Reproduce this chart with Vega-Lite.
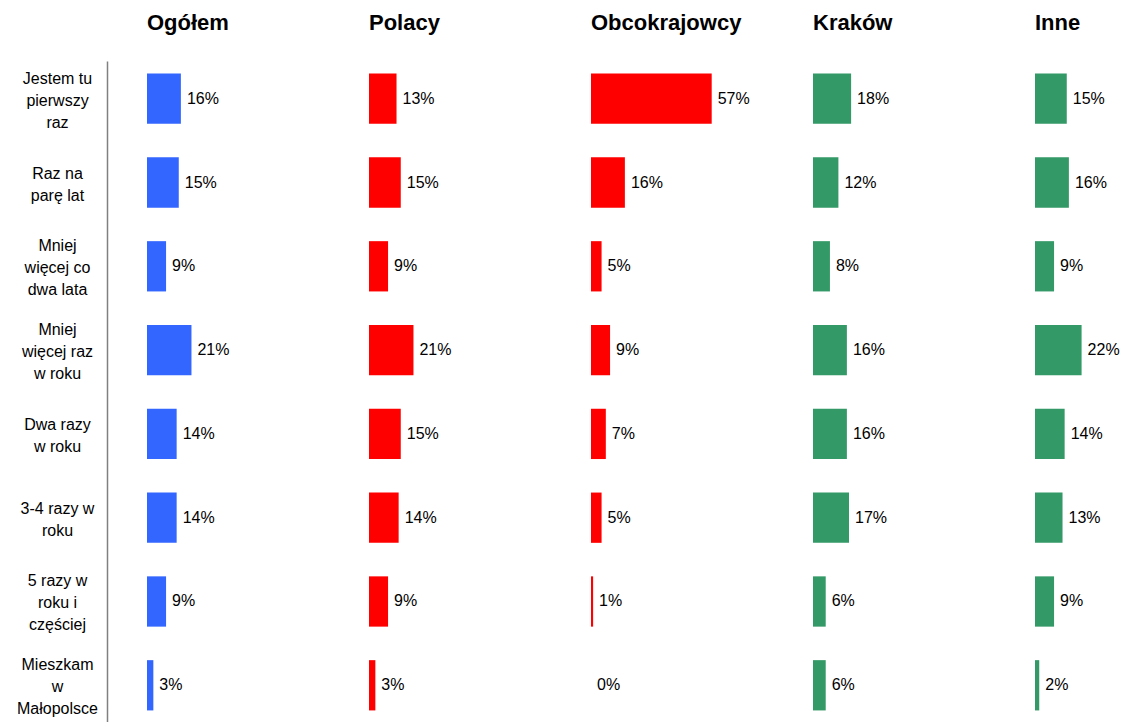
{
  "$schema": "https://vega.github.io/schema/vega-lite/v6.json",
  "padding": {"left": 16, "top": 12, "right": 0, "bottom": 0},
  "bounds": "flush",
  "background": "white",
  "config": {
    "view": {"stroke": null},
    "font": "Liberation Sans"
  },
  "data": {
    "values": [
      {"freq": "Jestem tu\npierwszy\nraz", "group": "Ogółem", "value": 0.16},
      {"freq": "Jestem tu\npierwszy\nraz", "group": "Polacy", "value": 0.13},
      {"freq": "Jestem tu\npierwszy\nraz", "group": "Obcokrajowcy", "value": 0.57},
      {"freq": "Jestem tu\npierwszy\nraz", "group": "Kraków", "value": 0.18},
      {"freq": "Jestem tu\npierwszy\nraz", "group": "Inne", "value": 0.15},
      {"freq": "Raz na\nparę lat", "group": "Ogółem", "value": 0.15},
      {"freq": "Raz na\nparę lat", "group": "Polacy", "value": 0.15},
      {"freq": "Raz na\nparę lat", "group": "Obcokrajowcy", "value": 0.16},
      {"freq": "Raz na\nparę lat", "group": "Kraków", "value": 0.12},
      {"freq": "Raz na\nparę lat", "group": "Inne", "value": 0.16},
      {"freq": "Mniej\nwięcej co\ndwa lata", "group": "Ogółem", "value": 0.09},
      {"freq": "Mniej\nwięcej co\ndwa lata", "group": "Polacy", "value": 0.09},
      {"freq": "Mniej\nwięcej co\ndwa lata", "group": "Obcokrajowcy", "value": 0.05},
      {"freq": "Mniej\nwięcej co\ndwa lata", "group": "Kraków", "value": 0.08},
      {"freq": "Mniej\nwięcej co\ndwa lata", "group": "Inne", "value": 0.09},
      {"freq": "Mniej\nwięcej raz\nw roku", "group": "Ogółem", "value": 0.21},
      {"freq": "Mniej\nwięcej raz\nw roku", "group": "Polacy", "value": 0.21},
      {"freq": "Mniej\nwięcej raz\nw roku", "group": "Obcokrajowcy", "value": 0.09},
      {"freq": "Mniej\nwięcej raz\nw roku", "group": "Kraków", "value": 0.16},
      {"freq": "Mniej\nwięcej raz\nw roku", "group": "Inne", "value": 0.22},
      {"freq": "Dwa razy\nw roku", "group": "Ogółem", "value": 0.14},
      {"freq": "Dwa razy\nw roku", "group": "Polacy", "value": 0.15},
      {"freq": "Dwa razy\nw roku", "group": "Obcokrajowcy", "value": 0.07},
      {"freq": "Dwa razy\nw roku", "group": "Kraków", "value": 0.16},
      {"freq": "Dwa razy\nw roku", "group": "Inne", "value": 0.14},
      {"freq": "3-4 razy w\nroku", "group": "Ogółem", "value": 0.14},
      {"freq": "3-4 razy w\nroku", "group": "Polacy", "value": 0.14},
      {"freq": "3-4 razy w\nroku", "group": "Obcokrajowcy", "value": 0.05},
      {"freq": "3-4 razy w\nroku", "group": "Kraków", "value": 0.17},
      {"freq": "3-4 razy w\nroku", "group": "Inne", "value": 0.13},
      {"freq": "5 razy w\nroku i\nczęściej", "group": "Ogółem", "value": 0.09},
      {"freq": "5 razy w\nroku i\nczęściej", "group": "Polacy", "value": 0.09},
      {"freq": "5 razy w\nroku i\nczęściej", "group": "Obcokrajowcy", "value": 0.01},
      {"freq": "5 razy w\nroku i\nczęściej", "group": "Kraków", "value": 0.06},
      {"freq": "5 razy w\nroku i\nczęściej", "group": "Inne", "value": 0.09},
      {"freq": "Mieszkam\nw\nMałopolsce", "group": "Ogółem", "value": 0.03},
      {"freq": "Mieszkam\nw\nMałopolsce", "group": "Polacy", "value": 0.03},
      {"freq": "Mieszkam\nw\nMałopolsce", "group": "Obcokrajowcy", "value": 0.0},
      {"freq": "Mieszkam\nw\nMałopolsce", "group": "Kraków", "value": 0.06},
      {"freq": "Mieszkam\nw\nMałopolsce", "group": "Inne", "value": 0.02}
    ]
  },
  "facet": {
    "column": {
      "field": "group",
      "type": "nominal",
      "sort": ["Ogółem", "Polacy", "Obcokrajowcy", "Kraków", "Inne"],
      "title": null,
      "header": {
        "labelFont": "Liberation Sans",
        "labelFontSize": 22,
        "labelFontWeight": "bold",
        "labelColor": "black",
        "labelAnchor": "start",
        "labelAlign": "left",
        "labelPadding": 26
      }
    }
  },
  "spacing": 132,
  "spec": {
    "width": 90,
    "height": 662,
    "encoding": {
      "y": {
        "field": "freq",
        "type": "nominal",
        "sort": null,
        "scale": {"paddingInner": 0.4, "paddingOuter": 0.15},
        "axis": {
          "title": null,
          "ticks": false,
          "offset": 40,
          "domainColor": "#808080",
          "domainWidth": 1.5,
          "labelExpr": "split(datum.value, '\\n')",
          "labelAlign": "center",
          "labelBaseline": "middle",
          "labelPadding": 50,
          "labelOffset": {"condition": {"test": "length(split(datum.value, '\\n')) == 3", "value": -20}, "value": -9},
          "labelFont": "Liberation Sans",
          "labelFontSize": 16,
          "labelLineHeight": 22,
          "labelColor": "black",
          "labelLimit": 0
        }
      },
      "x": {
        "field": "value",
        "type": "quantitative",
        "scale": {"domain": [0, 0.425], "nice": false, "zero": true},
        "axis": null
      }
    },
    "layer": [
      {
        "mark": {"type": "bar"},
        "encoding": {
          "color": {
            "field": "group",
            "type": "nominal",
            "scale": {
              "domain": ["Ogółem", "Polacy", "Obcokrajowcy", "Kraków", "Inne"],
              "range": ["#3366FF", "#FF0000", "#FF0000", "#339966", "#339966"]
            },
            "legend": null
          }
        }
      },
      {
        "mark": {"type": "text", "align": "left", "baseline": "middle", "dx": 6, "fontSize": 16, "font": "Liberation Sans", "color": "black"},
        "encoding": {
          "text": {"field": "value", "type": "quantitative", "format": ".0%"}
        }
      }
    ]
  }
}
